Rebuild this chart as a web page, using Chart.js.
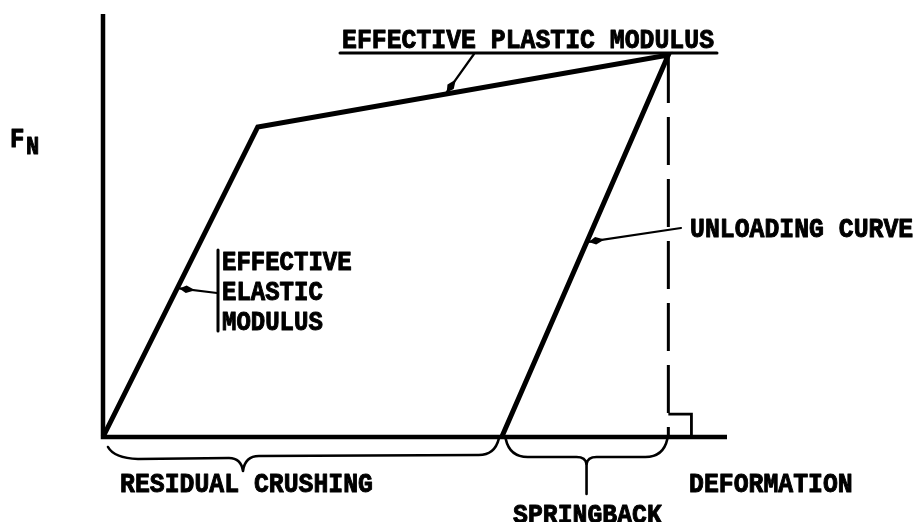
<!DOCTYPE html>
<html>
<head>
<meta charset="utf-8">
<script src="https://cdn.jsdelivr.net/npm/chart.js@4.4.1/dist/chart.umd.min.js"></script>
<style>
  html, body { margin: 0; padding: 0; background: #ffffff; }
  #wrap { width: 921px; height: 522px; }
</style>
</head>
<body>
<div id="wrap"><canvas id="c" width="921" height="522"></canvas></div>
<script>
// ---- data (schematic, axis units 0..100) ----
const loadingX   = [0, 24.8, 90.6, 63.9];     // origin, yield knee, peak, residual
const loadingY   = [0, 73.3, 90.3, 0];
const peakX      = 90.6;
const peakY      = 90.3;
const axisMax    = 100;
const squareSize = [3.7, 5.4];               // right-angle marker (x, y units)

const labels = {
  yAxis: 'F',
  yAxisSub: 'N',
  xAxis: 'DEFORMATION',
  plastic: 'EFFECTIVE PLASTIC MODULUS',
  elastic: ['EFFECTIVE', 'ELASTIC', 'MODULUS'],
  unloading: 'UNLOADING CURVE',
  residual: 'RESIDUAL CRUSHING',
  springback: 'SPRINGBACK'
};

const toPts = (xs, ys) => xs.map((x, i) => ({ x, y: ys[i] }));

const FONT = '"Liberation Mono", "DejaVu Sans Mono", monospace';

function arrow(ctx, x0, y0, x1, y1) {
  ctx.beginPath();
  ctx.moveTo(x0, y0);
  ctx.lineTo(x1, y1);
  ctx.lineWidth = 2.2;
  ctx.stroke();
  const dx = x0 - x1, dy = y0 - y1;
  const L = Math.hypot(dx, dy);
  const ux = dx / L, uy = dy / L;
  const nx = -uy, ny = ux;
  const a = 2, m = 9, b = 18, w = 3.8;
  ctx.beginPath();
  ctx.moveTo(x1 + ux * a, y1 + uy * a);
  ctx.lineTo(x1 + ux * m + nx * w, y1 + uy * m + ny * w);
  ctx.lineTo(x1 + ux * b, y1 + uy * b);
  ctx.lineTo(x1 + ux * m - nx * w, y1 + uy * m - ny * w);
  ctx.closePath();
  ctx.fill();
}

function tallText(ctx, s, x, y, sy) {
  ctx.save();
  ctx.translate(x, y);
  ctx.scale(1, sy);
  ctx.lineWidth = 0.9;
  ctx.strokeText(s, 0, 0);
  ctx.fillText(s, 0, 0);
  ctx.restore();
}

const annotate = {
  id: 'annotate',
  afterDatasetsDraw(chart) {
    const ctx = chart.ctx;
    const xs = chart.scales.x, ys = chart.scales.y;
    const P = (x, y) => [xs.getPixelForValue(x), ys.getPixelForValue(y)];
    const lerp = (a, b, t) => [a[0] + (b[0] - a[0]) * t, a[1] + (b[1] - a[1]) * t];
    const o = P(loadingX[0], loadingY[0]);
    const knee = P(loadingX[1], loadingY[1]);
    const peak = P(loadingX[2], loadingY[2]);
    const res = P(loadingX[3], loadingY[3]);
    const base = ys.getPixelForValue(0);

    ctx.save();
    ctx.fillStyle = '#000';
    ctx.strokeStyle = '#000';
    ctx.lineCap = 'round';
    ctx.lineJoin = 'round';
    ctx.textBaseline = 'alphabetic';
    ctx.textAlign = 'left';
    const SY = 1.15;

    // y-axis label F_N
    ctx.font = 'bold 24px ' + FONT;
    tallText(ctx, labels.yAxis, 10, 147, SY);
    ctx.font = 'bold 22px ' + FONT;
    tallText(ctx, labels.yAxisSub, 26, 154, SY);

    ctx.font = 'bold 24.8px ' + FONT;
    // plastic modulus label + underline + pointer
    tallText(ctx, labels.plastic, 342, 48, SY);
    ctx.beginPath();
    ctx.moveTo(340, 53); ctx.lineTo(717, 53);
    ctx.lineWidth = 3; ctx.stroke();
    const tP = lerp(knee, peak, 0.457);
    arrow(ctx, 474, 54, tP[0], tP[1]);

    // unloading curve label + pointer
    ctx.font = 'bold 24.8px ' + FONT;
    tallText(ctx, labels.unloading, 690, 237, SY);
    const tU = lerp(peak, res, 0.49);
    arrow(ctx, 681, 228, tU[0], tU[1]);

    // elastic modulus label + bar + pointer
    ctx.font = 'bold 24px ' + FONT;
    tallText(ctx, labels.elastic[0], 222, 270, SY);
    tallText(ctx, labels.elastic[1], 222, 300, SY);
    tallText(ctx, labels.elastic[2], 222, 330, SY);
    ctx.beginPath();
    ctx.moveTo(218, 250); ctx.lineTo(218, 331);
    ctx.lineWidth = 3; ctx.stroke();
    const tE = lerp(o, knee, 0.48);
    arrow(ctx, 217, 293, tE[0], tE[1]);

    // residual crushing brace
    ctx.lineWidth = 2.6;
    const rx1 = o[0] + 5, rx2 = res[0] - 3, rc = 243;
    ctx.beginPath();
    ctx.moveTo(rx1, base + 10);
    ctx.quadraticCurveTo(rx1 + 6, base + 21, rx1 + 30, base + 22);
    ctx.lineTo(rc - 14, base + 21);
    ctx.quadraticCurveTo(rc - 2, base + 21, rc, base + 34);
    ctx.quadraticCurveTo(rc + 2, base + 19, rc + 16, base + 19);
    ctx.lineTo(rx2 - 20, base + 18);
    ctx.quadraticCurveTo(rx2 - 4, base + 18, rx2, base + 2);
    ctx.stroke();

    // springback brace
    const sx1 = res[0] + 4, sx2 = peak[0] - 1;
    const sc = (sx1 + sx2) / 2;
    ctx.beginPath();
    ctx.moveTo(sx1, base + 2);
    ctx.quadraticCurveTo(sx1 + 4, base + 20, sx1 + 22, base + 20);
    ctx.lineTo(sc - 10, base + 20);
    ctx.quadraticCurveTo(sc - 1, base + 20, sc, base + 27);
    ctx.quadraticCurveTo(sc + 1, base + 20, sc + 10, base + 20);
    ctx.lineTo(sx2 - 22, base + 20);
    ctx.quadraticCurveTo(sx2 - 4, base + 20, sx2, base + 2);
    ctx.stroke();
    ctx.beginPath();
    ctx.moveTo(sc, base + 26); ctx.lineTo(sc, base + 57);
    ctx.stroke();

    ctx.font = 'bold 24.8px ' + FONT;
    tallText(ctx, labels.residual, 120, 492, SY);
    tallText(ctx, labels.xAxis, 689, 492, SY);
    tallText(ctx, labels.springback, 513, 523, SY);

    ctx.restore();
  }
};

new Chart(document.getElementById('c'), {
  type: 'line',
  data: {
    datasets: [
      { // axes
        data: toPts([0, 0, axisMax], [axisMax, 0, 0]),
        borderColor: '#000', borderWidth: 4.5, pointRadius: 0, clip: 20,
        borderJoinStyle: 'miter'
      },
      { // load / unload path
        data: toPts(loadingX, loadingY),
        borderColor: '#000', borderWidth: 5, pointRadius: 0, clip: 20,
        borderJoinStyle: 'miter', tension: 0
      },
      { // dashed drop line from peak
        data: toPts([peakX, peakX], [peakY, 0]),
        borderColor: '#000', borderWidth: 3, borderDash: [48, 14], pointRadius: 0, clip: 20
      },
      { // right-angle marker
        data: toPts([peakX, peakX + squareSize[0], peakX + squareSize[0]], [squareSize[1], squareSize[1], 0]),
        borderColor: '#000', borderWidth: 2.8, pointRadius: 0, clip: 20
      }
    ]
  },
  options: {
    responsive: false,
    animation: false,
    devicePixelRatio: 1,
    layout: { padding: { left: 103, right: 194, top: 14, bottom: 85 } },
    plugins: { legend: { display: false }, tooltip: { enabled: false }, title: { display: false } },
    scales: {
      x: { type: 'linear', min: 0, max: axisMax, display: false },
      y: { type: 'linear', min: 0, max: axisMax, display: false }
    },
    elements: { line: { tension: 0 } }
  },
  plugins: [annotate]
});
</script>
</body>
</html>
